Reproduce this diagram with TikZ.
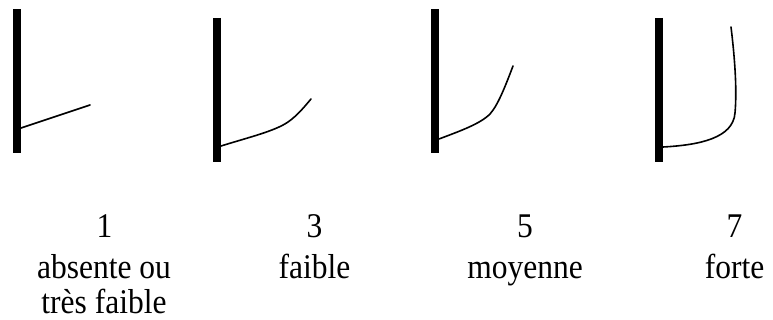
\documentclass[tikz,border=0pt]{standalone}
\usepackage{fontspec}
\setmainfont{Liberation Serif}
\newcommand{\talltxt}[1]{\scalebox{1}[1.1]{#1}}
\begin{document}
\begin{tikzpicture}[x=1pt,y=-1pt,
  bar/.style={line width=8pt},
  curve/.style={line width=1.6pt,line cap=round,line join=round},
  lbl/.style={anchor=base,inner sep=0pt,font=\fontsize{31.5}{36}\selectfont}]
\useasboundingbox (0,0) rectangle (773,320);
% bars
\draw[bar] (17,9.5) -- (17,153);
\draw[bar] (216.7,18) -- (216.7,162);
\draw[bar] (435,9.5) -- (435,153);
\draw[bar] (659,18) -- (659,162);
% curves
\draw[curve] (21,128) -- (90,105);
\draw[curve] (221,146) .. controls (250,137) and (275,131) .. (288,122)
  .. controls (298,115) and (305,106) .. (311,99);
\draw[curve] (439,139) .. controls (460,131) and (480,124) .. (490,114)
  .. controls (498,105) and (505,87) .. (513,66);
\draw[curve] (663,147) .. controls (700,145) and (733,138) .. (735,113)
  .. controls (737,90) and (735,60) .. (731,27);
% labels
\node[lbl] (n1) at (104.5,238) {\talltxt{1}};
\node[lbl] (t1a) at (104,278) {\talltxt{absente ou}};
\node[lbl] (t1b) at (104,313) {\talltxt{très faible}};
\node[lbl] (n3) at (314.5,238) {\talltxt{3}};
\node[lbl] (t3) at (314.5,278) {\talltxt{faible}};
\node[lbl] (n5) at (525,238) {\talltxt{5}};
\node[lbl] (t5) at (525,278) {\talltxt{moyenne}};
\node[lbl] (n7) at (734.5,238) {\talltxt{7}};
\node[lbl] (t7) at (734.5,278) {\talltxt{forte}};
\end{tikzpicture}
\end{document}
